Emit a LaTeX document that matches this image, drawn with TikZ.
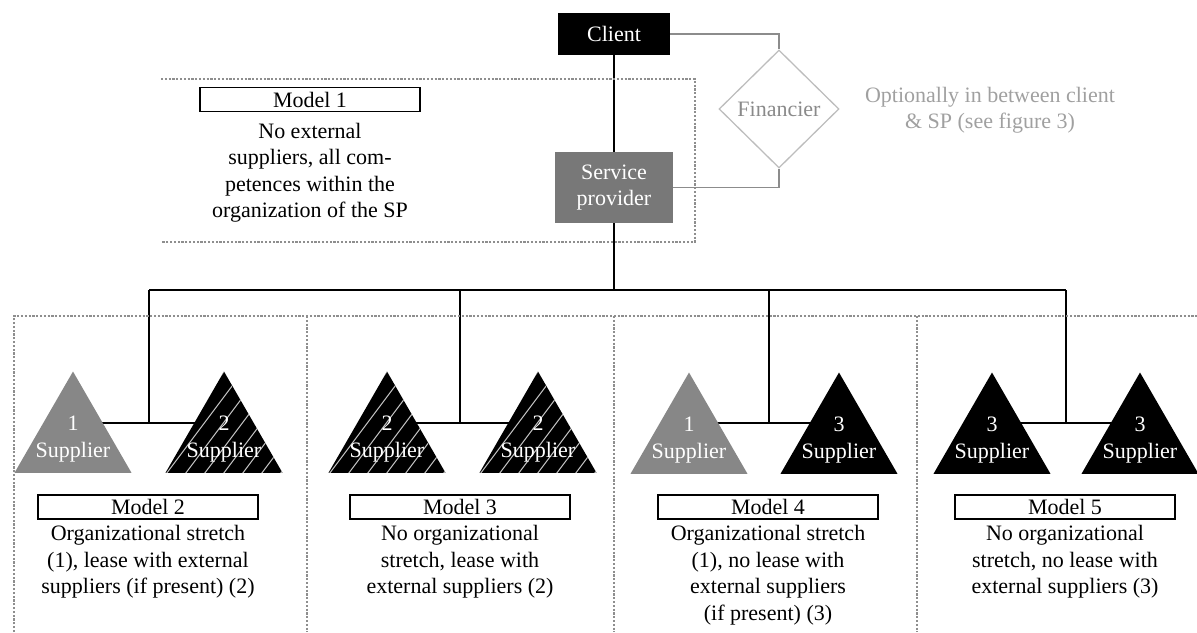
\documentclass[tikz,border=0pt]{standalone}
\usepackage{fontspec}
\setmainfont{Liberation Serif}
\usetikzlibrary{shapes.geometric,backgrounds,calc}

\definecolor{spgray}{HTML}{787878}
\definecolor{trigray}{HTML}{878787}
\definecolor{dotgray}{HTML}{8E8E8E}
\definecolor{fingray}{HTML}{BDBDBD}
\definecolor{fintext}{HTML}{8A8A8A}
\definecolor{optgray}{HTML}{A0A0A0}
\definecolor{linkgray}{HTML}{8C8C8C}
\definecolor{hatchcol}{HTML}{C8C8C8}

\begin{document}
\begin{tikzpicture}[x=1pt,y=-1pt,
  every node/.style={font=\fontsize{22}{26.5}\selectfont, inner sep=0pt, align=center},
  conn/.style={line width=1.5pt, black},
  link/.style={line width=1.5pt, linkgray},
  dots/.style={dotgray, line width=2.4pt, dash pattern=on 2.2pt off 1.6pt},
  modelbox/.style={draw=black, line width=1.5pt, minimum width=220pt, minimum height=24pt},
  tri/.style={regular polygon, regular polygon sides=3, minimum size=135pt, draw=none},
  graytri/.style={tri, fill=trigray},
  blacktri/.style={tri, fill=black},
  hatchtri/.style={tri, fill=black,
    path picture={\foreach \k in {-7,...,7}{\draw[hatchcol, line width=1pt]
      ($(path picture bounding box.center)+(\k*19pt-45pt,-60pt)$) -- ++(90pt,120pt);}}},
  supl/.style={text=white},
]
\useasboundingbox (0,0) rectangle (1197,632);

% dotted regions
\draw[dots] (161,79) -- (695,79) -- (695,242) -- (161,242);
\draw[dots] (14,632) -- (14,316) -- (1197,316);
\draw[dots] (307,316) -- (307,632);
\draw[dots] (614,316) -- (614,632);
\draw[dots] (917,316) -- (917,632);

% top nodes
\node[fill=black, text=white, minimum width=112pt, minimum height=42pt] (client) at (614,34) {Client};
\node[fill=spgray, text=white, minimum width=118pt, minimum height=71pt] (sp) at (614,187.5) {Service\\provider};
\node[diamond, draw=fingray, line width=1.3pt, text=fintext, minimum width=120pt, minimum height=118pt] (fin) at (779,109) {Financier};
\node[text=optgray] (opt) at (990,110) {Optionally in between client\\\& SP (see figure 3)};

% model 1
\node[modelbox] (m1) at (310,99.5) {Model 1};
\node (m1t) at (310,172.5) {No external\\suppliers, all com-\\petences within the\\organization of the SP};

% bus coordinates
\coordinate (bus) at (614,290);
\coordinate (b1) at (149,290);
\coordinate (b2) at (460,290);
\coordinate (b3) at (769,290);
\coordinate (b4) at (1066,290);
\coordinate (j2) at (149,423);
\coordinate (j3) at (460,423);
\coordinate (j4) at (769,423);
\coordinate (j5) at (1066,423);

% triangles
\node[graytri]  (t21) at (73,439) {};
\node[hatchtri] (t22) at (224,439) {};
\node[hatchtri] (t31) at (387,439) {};
\node[hatchtri] (t32) at (538,439) {};
\node[graytri]  (t41) at (689,440) {};
\node[blacktri] (t42) at (839,440) {};
\node[blacktri] (t51) at (992,440) {};
\node[blacktri] (t52) at (1140,440) {};

\node[supl] (s21) at (t21.center) {1\\Supplier};
\node[supl] (s22) at (t22.center) {2\\Supplier};
\node[supl] (s31) at (t31.center) {2\\Supplier};
\node[supl] (s32) at (t32.center) {2\\Supplier};
\node[supl] (s41) at (t41.center) {1\\Supplier};
\node[supl] (s42) at (t42.center) {3\\Supplier};
\node[supl] (s51) at (t51.center) {3\\Supplier};
\node[supl] (s52) at (t52.center) {3\\Supplier};

% model labels
\node[modelbox] (m2) at (148,507) {Model 2};
\node[modelbox] (m3) at (460,507) {Model 3};
\node[modelbox] (m4) at (768,507) {Model 4};
\node[modelbox] (m5) at (1065,507) {Model 5};
\node (m2t) at (148,562) {Organizational stretch\\(1), lease with external\\suppliers (if present) (2)};
\node (m3t) at (460,562) {No organizational\\stretch, lease with\\external suppliers (2)};
\node (m4t) at (768,575) {Organizational stretch\\(1), no lease with\\external suppliers\\(if present) (3)};
\node (m5t) at (1065,562) {No organizational\\stretch, no lease with\\external suppliers (3)};

% connectors
\begin{scope}[on background layer]
\draw[conn] (client) -- (sp);
\draw[conn] (sp.south) -- (bus);
\draw[conn] (b1) -- (b4);
\draw[conn] (b1) -- (j2);
\draw[conn] (b2) -- (j3);
\draw[conn] (b3) -- (j4);
\draw[conn] (b4) -- (j5);
\draw[conn] (t21.center |- j2) -- (t22.center |- j2);
\draw[conn] (t31.center |- j3) -- (t32.center |- j3);
\draw[conn] (t41.center |- j4) -- (t42.center |- j4);
\draw[conn] (t51.center |- j5) -- (t52.center |- j5);
\end{scope}
\draw[link] (client.east) -- (client.east -| fin.north) -- (fin.north);
\draw[link] (sp.east) -- (sp.east -| fin.south) -- (fin.south);
\end{tikzpicture}
\end{document}
